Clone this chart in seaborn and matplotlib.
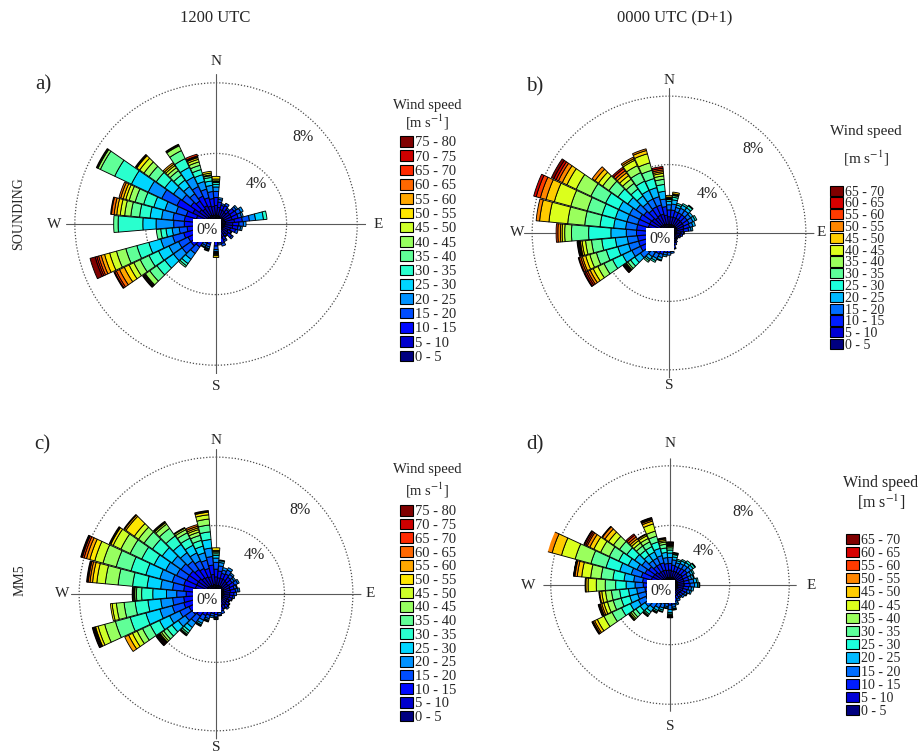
import numpy as np
import pandas as pd
import seaborn as sns
import matplotlib.pyplot as plt
from matplotlib.patches import Patch

# sector centres, degrees clockwise from north
directions = list(range(0, 360, 10))

speed_labels_80 = ["0 - 5", "5 - 10", "10 - 15", "15 - 20", "20 - 25", "25 - 30",
                   "30 - 35", "35 - 40", "40 - 45", "45 - 50", "50 - 55", "55 - 60",
                   "60 - 65", "65 - 70", "70 - 75", "75 - 80"]
speed_labels_70 = ["0 - 5", "5 - 10", "10 - 15", "15 - 20", "20 - 25", "25 - 30",
                   "30 - 35", "35 - 40", "40 - 45", "45 - 50", "50 - 55", "55 - 60",
                   "60 - 65", "65 - 70"]

# frequency (%) per speed class, one row per direction (0, 10, ..., 350)
sounding_12 = [
    [0.55, 0.5, 0.45, 0.35, 0.25, 0.15, 0.1, 0.05, 0.05, 0.1, 0.15],
    [0.5, 0.45, 0.3, 0.15, 0.1],
    [0.45, 0.4, 0.25, 0.1],
    [0.45, 0.4, 0.3, 0.15],
    [0.45, 0.35, 0.2, 0.1],
    [0.5, 0.45, 0.3, 0.15, 0.1],
    [0.5, 0.45, 0.35, 0.25, 0.15],
    [0.5, 0.45, 0.35, 0.2, 0.1],
    [0.55, 0.5, 0.45, 0.4, 0.35, 0.45, 0.2],
    [0.5, 0.45, 0.35, 0.25, 0.15],
    [0.5, 0.45, 0.3, 0.15, 0.1],
    [0.45, 0.4, 0.3, 0.15],
    [0.4, 0.35, 0.2, 0.05],
    [0.45, 0.4, 0.25, 0.1],
    [0.4, 0.3, 0.15, 0.05],
    [0.45, 0.35, 0.2, 0.1],
    [0.45, 0.4, 0.3, 0.15],
    [0.45, 0.4, 0.25, 0.1],
    [0.5, 0.45, 0.3, 0.2, 0.1, 0.05, 0.05, 0.05, 0.05, 0.05, 0.1],
    [0.4, 0.35, 0.2, 0.05],
    [0.5, 0.4, 0.3, 0.15, 0.1, 0.05, 0.05, 0.05],
    [0.5, 0.4, 0.3, 0.15, 0.1, 0.05],
    [0.55, 0.55, 0.5, 0.45, 0.4, 0.3, 0.15, 0.1],
    [0.55, 0.6, 0.6, 0.6, 0.6, 0.6, 0.55, 0.5, 0.3, 0.05, 0.05, 0.05, 0.05],
    [0.55, 0.6, 0.6, 0.6, 0.6, 0.65, 0.6, 0.55, 0.4, 0.3, 0.3, 0.3, 0.2, 0.1, 0.05],
    [0.6, 0.65, 0.65, 0.65, 0.7, 0.7, 0.7, 0.65, 0.55, 0.4, 0.3, 0.2, 0.15, 0.1, 0.1, 0.3],
    [0.55, 0.6, 0.5, 0.45, 0.4, 0.35, 0.3, 0.25],
    [0.5, 0.6, 0.7, 0.6, 1.0, 0.75, 1.4, 0.25],
    [0.55, 0.6, 0.65, 0.65, 0.65, 0.65, 0.6, 0.5, 0.35, 0.25, 0.2, 0.15, 0.15, 0.05],
    [0.55, 0.6, 0.6, 0.6, 0.65, 0.65, 0.6, 0.5, 0.35, 0.2, 0.15, 0.15, 0.1],
    [0.6, 0.85, 1.0, 0.95, 0.85, 1.05, 1.05, 0.9, 0.15, 0.05, 0.05],
    [0.55, 0.6, 0.6, 0.6, 0.6, 0.6, 0.6, 0.5, 0.35, 0.3, 0.2, 0.05, 0.05],
    [0.5, 0.55, 0.55, 0.5, 0.5, 0.45, 0.35, 0.3, 0.2, 0.15, 0.1, 0.1],
    [0.55, 0.6, 0.6, 0.6, 0.6, 0.6, 0.55, 0.5, 0.3, 0.05, 0.05],
    [0.5, 0.55, 0.5, 0.5, 0.45, 0.4, 0.3, 0.25, 0.2, 0.15, 0.1, 0.05, 0.05, 0.1],
    [0.5, 0.5, 0.45, 0.4, 0.35, 0.25, 0.2, 0.1, 0.05, 0.1, 0.1],
]

sounding_00 = [
    [0.5, 0.45, 0.4, 0.3, 0.2, 0.1, 0.05, 0.05, 0.05, 0.1],
    [0.5, 0.45, 0.4, 0.35, 0.25, 0.15, 0.1, 0.05, 0.05, 0.1],
    [0.5, 0.45, 0.35, 0.25, 0.15, 0.1],
    [0.5, 0.45, 0.35, 0.3, 0.2, 0.1],
    [0.5, 0.45, 0.35, 0.3, 0.2, 0.15, 0.05],
    [0.5, 0.45, 0.35, 0.25, 0.15],
    [0.5, 0.45, 0.35, 0.25, 0.15, 0.1],
    [0.5, 0.4, 0.35, 0.2, 0.15],
    [0.45, 0.4, 0.3, 0.15, 0.1],
    [0.4, 0.3, 0.15, 0.05],
    [0.35, 0.3, 0.15],
    [0.35, 0.25, 0.1],
    [0.3, 0.2, 0.1],
    [0.3, 0.2, 0.1],
    [0.35, 0.25, 0.1],
    [0.35, 0.3, 0.15],
    [0.4, 0.35, 0.2, 0.05],
    [0.45, 0.4, 0.25, 0.1],
    [0.45, 0.4, 0.3, 0.15],
    [0.45, 0.4, 0.3, 0.15, 0.1],
    [0.5, 0.45, 0.35, 0.2, 0.15, 0.05],
    [0.5, 0.45, 0.4, 0.3, 0.15, 0.1],
    [0.5, 0.5, 0.4, 0.3, 0.2, 0.1, 0.1],
    [0.55, 0.55, 0.5, 0.45, 0.4, 0.3, 0.2, 0.1, 0.05, 0.05, 0.05, 0.05, 0.05],
    [0.6, 0.65, 0.6, 0.55, 0.6, 0.65, 0.55, 0.4, 0.3, 0.2, 0.15, 0.1, 0.1, 0.05],
    [0.6, 0.65, 0.6, 0.6, 0.65, 0.7, 0.6, 0.4, 0.25, 0.2, 0.1, 0.1, 0.05],
    [0.6, 0.65, 0.6, 0.6, 0.7, 0.8, 0.6, 0.35, 0.2, 0.1, 0.05, 0.05, 0.05, 0.05],
    [0.6, 0.65, 0.65, 0.6, 0.9, 1.3, 1.0, 0.4, 0.15, 0.1, 0.15, 0.1],
    [0.6, 0.65, 0.65, 0.65, 0.7, 0.8, 0.9, 1.0, 1.1, 0.55, 0.2],
    [0.6, 0.65, 0.65, 0.65, 0.7, 0.8, 0.9, 1.0, 1.0, 0.5, 0.35, 0.25, 0.15],
    [0.6, 0.65, 0.65, 0.65, 0.7, 0.85, 0.95, 0.95, 0.6, 0.3, 0.25, 0.15, 0.15, 0.15],
    [0.6, 0.6, 0.6, 0.55, 0.6, 0.7, 0.65, 0.45, 0.3, 0.25, 0.2],
    [0.55, 0.55, 0.55, 0.5, 0.5, 0.5, 0.4, 0.3, 0.25, 0.2, 0.15, 0.15, 0.1],
    [0.55, 0.6, 0.55, 0.5, 0.55, 0.6, 0.55, 0.45, 0.35, 0.1, 0.1],
    [0.55, 0.6, 0.55, 0.5, 0.55, 0.55, 0.5, 0.45, 0.55, 0.2, 0.1],
    [0.5, 0.55, 0.5, 0.45, 0.45, 0.4, 0.3, 0.2, 0.15, 0.1, 0.1, 0.1, 0.1],
]

mm5_12 = [
    [0.5, 0.5, 0.45, 0.4, 0.25, 0.15, 0.1, 0.1, 0.05, 0.05, 0.15],
    [0.5, 0.45, 0.4, 0.3, 0.2, 0.1, 0.05],
    [0.5, 0.45, 0.3, 0.2, 0.15],
    [0.5, 0.45, 0.35, 0.25, 0.15],
    [0.5, 0.4, 0.3, 0.2, 0.1],
    [0.45, 0.4, 0.3, 0.15, 0.1],
    [0.5, 0.4, 0.3, 0.2, 0.1],
    [0.45, 0.4, 0.25, 0.15, 0.05],
    [0.45, 0.4, 0.3, 0.15, 0.1],
    [0.45, 0.35, 0.25, 0.15],
    [0.45, 0.35, 0.2, 0.1],
    [0.4, 0.35, 0.2, 0.05],
    [0.4, 0.3, 0.15, 0.05],
    [0.4, 0.35, 0.2, 0.05],
    [0.45, 0.35, 0.2, 0.1],
    [0.4, 0.35, 0.2, 0.05],
    [0.45, 0.35, 0.25, 0.15],
    [0.45, 0.4, 0.25, 0.15, 0.05],
    [0.5, 0.4, 0.3, 0.15, 0.05, 0.05, 0.05],
    [0.45, 0.4, 0.3, 0.15, 0.1],
    [0.5, 0.45, 0.35, 0.2, 0.1, 0.05, 0.05],
    [0.5, 0.5, 0.4, 0.3, 0.2, 0.1, 0.05, 0.05],
    [0.55, 0.55, 0.5, 0.45, 0.35, 0.25, 0.15, 0.1, 0.05, 0.05],
    [0.55, 0.6, 0.55, 0.5, 0.5, 0.45, 0.35, 0.25, 0.15, 0.1, 0.05, 0.05, 0.05, 0.05, 0.05, 0.05],
    [0.55, 0.6, 0.6, 0.6, 0.65, 0.65, 0.6, 0.5, 0.35, 0.3, 0.25, 0.25],
    [0.6, 0.65, 0.7, 0.7, 0.75, 0.85, 0.95, 0.9, 0.65, 0.4, 0.15, 0.05, 0.05, 0.05, 0.05],
    [0.6, 0.65, 0.65, 0.65, 0.7, 0.75, 0.75, 0.65, 0.45, 0.25, 0.1],
    [0.55, 0.6, 0.6, 0.55, 0.6, 0.8, 0.65, 0.3, 0.1, 0.05, 0.05, 0.05],
    [0.6, 0.65, 0.65, 0.65, 0.7, 0.8, 0.85, 0.85, 0.75, 0.5, 0.25, 0.15, 0.1, 0.05, 0.05],
    [0.6, 0.65, 0.7, 0.7, 0.75, 0.85, 0.9, 0.9, 0.8, 0.5, 0.3, 0.2, 0.15, 0.1, 0.05, 0.05],
    [0.6, 0.65, 0.65, 0.65, 0.7, 0.75, 0.8, 0.75, 0.6, 0.5, 0.15, 0.05, 0.05],
    [0.6, 0.65, 0.65, 0.6, 0.65, 0.7, 0.7, 0.6, 0.4, 0.3, 0.6, 0.1, 0.05],
    [0.55, 0.6, 0.6, 0.6, 0.6, 0.6, 0.6, 0.55, 0.3, 0.1, 0.05, 0.05],
    [0.55, 0.55, 0.55, 0.5, 0.5, 0.5, 0.45, 0.35, 0.2, 0.1, 0.05],
    [0.5, 0.55, 0.5, 0.5, 0.45, 0.4, 0.35, 0.3, 0.2, 0.15, 0.1, 0.1, 0.1],
    [0.55, 0.6, 0.55, 0.5, 0.5, 0.5, 0.45, 0.4, 0.35, 0.25, 0.15, 0.05, 0.05],
]

mm5_00 = [
    [0.5, 0.5, 0.45, 0.4, 0.3, 0.2, 0.15, 0.1, 0.05, 0.05, 0.05, 0.05, 0.05, 0.05],
    [0.5, 0.45, 0.4, 0.35, 0.2, 0.15, 0.05, 0.05, 0.05],
    [0.5, 0.45, 0.35, 0.25, 0.15, 0.1],
    [0.5, 0.45, 0.35, 0.3, 0.2, 0.1],
    [0.5, 0.45, 0.4, 0.3, 0.2, 0.15],
    [0.5, 0.5, 0.4, 0.3, 0.2, 0.15, 0.05],
    [0.5, 0.45, 0.35, 0.25, 0.15, 0.1],
    [0.5, 0.45, 0.35, 0.2, 0.15, 0.05],
    [0.5, 0.45, 0.35, 0.3, 0.2, 0.1],
    [0.5, 0.45, 0.4, 0.3, 0.2, 0.1, 0.05],
    [0.5, 0.4, 0.35, 0.2, 0.15],
    [0.5, 0.4, 0.3, 0.2, 0.1],
    [0.45, 0.4, 0.25, 0.15, 0.05],
    [0.45, 0.35, 0.25, 0.15],
    [0.45, 0.35, 0.2, 0.1],
    [0.45, 0.35, 0.25, 0.15],
    [0.45, 0.4, 0.3, 0.15, 0.1],
    [0.5, 0.45, 0.35, 0.2, 0.1, 0.05, 0.05],
    [0.5, 0.45, 0.4, 0.3, 0.2, 0.1, 0.05, 0.05, 0.05, 0.05, 0.05],
    [0.5, 0.4, 0.35, 0.2, 0.1, 0.05],
    [0.5, 0.45, 0.35, 0.3, 0.15, 0.1, 0.05],
    [0.5, 0.5, 0.4, 0.3, 0.2, 0.1, 0.05, 0.05],
    [0.55, 0.5, 0.45, 0.4, 0.3, 0.2, 0.1, 0.05, 0.05],
    [0.55, 0.55, 0.5, 0.45, 0.4, 0.35, 0.25, 0.15, 0.1, 0.05, 0.05],
    [0.6, 0.6, 0.6, 0.55, 0.6, 0.65, 0.7, 0.6, 0.5, 0.2, 0.1, 0.05, 0.05],
    [0.55, 0.6, 0.55, 0.55, 0.55, 0.6, 0.55, 0.4, 0.25, 0.15, 0.1, 0.05, 0.05, 0.05],
    [0.55, 0.6, 0.55, 0.55, 0.55, 0.6, 0.55, 0.4, 0.25, 0.15, 0.05],
    [0.6, 0.6, 0.6, 0.55, 0.6, 0.7, 0.7, 0.6, 0.55, 0.15, 0.05],
    [0.6, 0.65, 0.6, 0.6, 0.65, 0.75, 0.8, 0.7, 0.6, 0.3, 0.15, 0.05, 0.03, 0.02],
    [0.6, 0.7, 0.7, 0.7, 0.8, 0.95, 1.05, 1.1, 0.95, 0.65, 0.45, 0.35, 0.25, 0.05],
    [0.6, 0.65, 0.6, 0.6, 0.65, 0.7, 0.7, 0.65, 0.5, 0.3, 0.2, 0.1, 0.1, 0.05],
    [0.6, 0.6, 0.55, 0.55, 0.6, 0.65, 0.6, 0.5, 0.4, 0.3, 0.2, 0.05],
    [0.5, 0.55, 0.5, 0.45, 0.45, 0.4, 0.35, 0.25, 0.2, 0.15, 0.15, 0.15, 0.1],
    [0.5, 0.55, 0.5, 0.45, 0.45, 0.4, 0.35, 0.25, 0.2, 0.1, 0.05],
    [0.5, 0.55, 0.5, 0.5, 0.5, 0.45, 0.4, 0.35, 0.5, 0.2, 0.1, 0.05, 0.05, 0.05],
    [0.5, 0.5, 0.45, 0.4, 0.35, 0.3, 0.25, 0.15, 0.1, 0.1, 0.05, 0.05],
]


def to_frame(rows, labels):
    recs = []
    for d, row in zip(directions, rows):
        for k, lab in enumerate(labels):
            recs.append({"dir": d, "speed": lab, "k": k,
                         "freq": row[k] if k < len(row) else 0.0})
    return pd.DataFrame(recs)


def windrose(fig, rect, rows, labels, lab_r, leg):
    ax = fig.add_axes(rect, projection="polar")
    ax.set_theta_zero_location("N")
    ax.set_theta_direction(-1)
    df = to_frame(rows, labels)
    colors = sns.color_palette(plt.cm.jet(np.linspace(0, 1, len(labels))))
    bottom = pd.Series(0.0, index=directions)
    for k, lab in enumerate(labels):
        sub = df[df.k == k].set_index("dir")["freq"]
        sub = sub[sub > 0]
        if len(sub):
            ax.bar(np.radians(sub.index.values), sub.values, width=np.radians(9.5),
                   bottom=bottom[sub.index].values, color=colors[k],
                   edgecolor="black", linewidth=0.65, zorder=3)
            bottom[sub.index] += sub.values

    rmax = 8.5
    for t in [0, 90, 180, 270]:
        ax.plot([np.radians(t)] * 2, [0, rmax], color="0.35", lw=0.8, zorder=1)
    ax.set_ylim(0, rmax)
    ax.set_yticks([4, 8])
    ax.set_yticklabels([])
    ax.set_xticks([])
    ax.yaxis.grid(True, linestyle=(0, (1, 1.5)), color="0.3", lw=0.9)
    ax.xaxis.grid(False)
    ax.spines["polar"].set_visible(False)
    ax.set_facecolor("none")

    for t, s in zip([0, 90, 180, 270], ["N", "E", "S", "W"]):
        ax.text(np.radians(t), lab_r, s, ha="center", va="center",
                fontsize=11, clip_on=False)
    ax.text(np.radians(45), 3.2, "4%", ha="center", va="center", fontsize=11.5)
    ax.text(np.radians(45), 6.95, "8%", ha="center", va="center", fontsize=11.5)
    ax.annotate("0%", xy=(0, 0), xytext=(-6.5, -4.5), textcoords="offset points",
                ha="center", va="center", fontsize=11.5, zorder=5,
                bbox=dict(boxstyle="square,pad=0.22", fc="white", ec="none"))

    # legend: title lines drawn as text, entries highest class on top
    W, H = 922, 753
    tx, ty1, ty2, tfs = leg["title"]
    fig.text(tx / W, 1 - ty1 / H, "Wind speed", fontsize=tfs, ha="center", va="center")
    fig.text(tx / W, 1 - ty2 / H, "[m s$^{-1}$]", fontsize=tfs, ha="center", va="center")
    handles = [Patch(facecolor=c, edgecolor="black", linewidth=0.8) for c in colors][::-1]
    fig.legend(handles, labels[::-1], loc="upper left",
               bbox_to_anchor=(leg["x"] / W, 1 - leg["top"] / H), frameon=False,
               fontsize=leg["fs"], handlelength=0.9, handleheight=0.75,
               handletextpad=0.15, labelspacing=leg["ls"],
               borderpad=0, borderaxespad=0)
    fig.text(leg["letter"][1] / W, 1 - leg["letter"][2] / H, leg["letter"][0],
             fontsize=15, ha="center", va="center")
    return ax


sns.set_style("white")
plt.rcParams["font.family"] = ["Liberation Serif", "DejaVu Serif"]
plt.rcParams["mathtext.fontset"] = "stix"

fig = plt.figure(figsize=(9.22, 7.53), dpi=100)

windrose(fig, [0.0716, 0.5033, 0.3254, 0.3984], sounding_12, speed_labels_80, 9.2,
         dict(title=(427, 105, 122, 10.5), x=400, top=136, fs=10.5, ls=0.06,
              letter=("a)", 43, 85)))
windrose(fig, [0.5679, 0.4975, 0.3154, 0.3862], sounding_00, speed_labels_70, 8.9,
         dict(title=(866, 131, 158, 11), x=830, top=185.5, fs=10, ls=-0.086,
              letter=("b)", 535, 87)))
windrose(fig, [0.0766, 0.0181, 0.3154, 0.3862], mm5_12, speed_labels_80, 9.0,
         dict(title=(427, 470, 490, 10.5), x=400, top=505, fs=10.5, ls=0.02,
              letter=("c)", 42, 445)))
windrose(fig, [0.5893, 0.0548, 0.2748, 0.3365], mm5_00, speed_labels_70, 9.5,
         dict(title=(881, 483, 502, 11.5), x=846, top=533.5, fs=10, ls=0.015,
              letter=("d)", 535, 445)))

fig.text(215 / 922, 1 - 18 / 753, "1200 UTC", fontsize=12, ha="center", va="center")
fig.text(675 / 922, 1 - 18 / 753, "0000 UTC (D+1)", fontsize=12, ha="center", va="center")
fig.text(19 / 922, 1 - 214 / 753, "SOUNDING", fontsize=10, rotation=90, ha="center", va="center")
fig.text(20 / 922, 1 - 580 / 753, "MM5", fontsize=10, rotation=90, ha="center", va="center")

fig.savefig("out.png", dpi=100, facecolor="white")
